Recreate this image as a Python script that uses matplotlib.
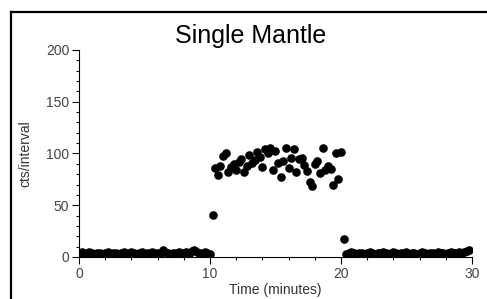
import matplotlib.pyplot as plt
import numpy as np
from matplotlib.lines import Line2D
from matplotlib.ticker import MultipleLocator

plt.rcParams['font.family'] = ['Liberation Sans', 'DejaVu Sans']

interval = 0.2  # minutes between counts

# counts per interval (one value every 0.2 min)
before = [4, 5, 3, 4, 5, 4, 3, 4, 4, 3, 4, 5, 3, 4, 4, 3, 4, 5, 4, 4,
          5, 4, 3, 4, 5, 3, 4, 4, 5, 4, 4, 3, 7, 5, 4, 3, 4, 4, 5, 4,
          4, 5, 3, 6, 7, 5, 4, 3, 5, 4, 3]
rise = [41]
plateau = [86, 79, 88, 98, 100, 82, 87, 90, 84, 92, 95, 82, 88, 99, 91, 94,
           101, 97, 87, 104, 100, 105, 84, 102, 91, 77, 93, 105, 86, 96, 104,
           82, 95, 96, 89, 83, 72, 69, 90, 93, 81, 105, 84, 88, 85, 70, 100,
           75, 101]
fall = [17]
after = [3, 4, 5, 4, 3, 4, 4, 3, 4, 5, 4, 3, 4, 4, 5, 4, 3, 4, 5, 4,
         3, 4, 4, 5, 3, 4, 4, 3, 4, 5, 4, 3, 4, 4, 3, 5, 4, 4, 3, 4,
         5, 4, 4, 5, 4, 5, 6, 7]

counts = np.array(before + rise + plateau + fall + after)
time = np.arange(len(counts)) * interval

fig = plt.figure(figsize=(4.87, 2.99), dpi=100)
ax = fig.add_axes([0.1622, 0.1405, 0.807, 0.6923])

ax.plot(time, counts, 'o', color='black', markersize=6.2, markeredgewidth=0)

ax.set_xlim(0, 30)
ax.set_ylim(0, 200)
ax.xaxis.set_major_locator(MultipleLocator(10))
ax.xaxis.set_minor_locator(MultipleLocator(2))
ax.yaxis.set_major_locator(MultipleLocator(50))
ax.yaxis.set_minor_locator(MultipleLocator(10))
ax.tick_params(which='major', length=5, width=0.8, labelsize=10, labelcolor='#444444', pad=2)
ax.tick_params(which='minor', length=2.5, width=0.8)

for s in ['top', 'right']:
    ax.spines[s].set_visible(False)
ax.spines['left'].set_linewidth(0.8)
ax.spines['bottom'].set_linewidth(0.8)

ax.set_xlabel('Time (minutes)', fontsize=10, color='#333333', labelpad=2)
ax.set_ylabel('cts/interval', fontsize=10, color='#333333', labelpad=10)

fig.text(251 / 487, 1 - 36 / 299, 'Single Mantle', fontsize=18, ha='center', va='center')

# outer frame (only its left and top edges are inside the picture)
fx = 10.5 / 487
fy = 1 - 11.5 / 299
fig.add_artist(Line2D([fx, fx], [0, fy], transform=fig.transFigure, color='black', linewidth=1.6))
fig.add_artist(Line2D([fx, 1], [fy, fy], transform=fig.transFigure, color='black', linewidth=1.6))

fig.savefig('out.png', dpi=100, facecolor='white')
